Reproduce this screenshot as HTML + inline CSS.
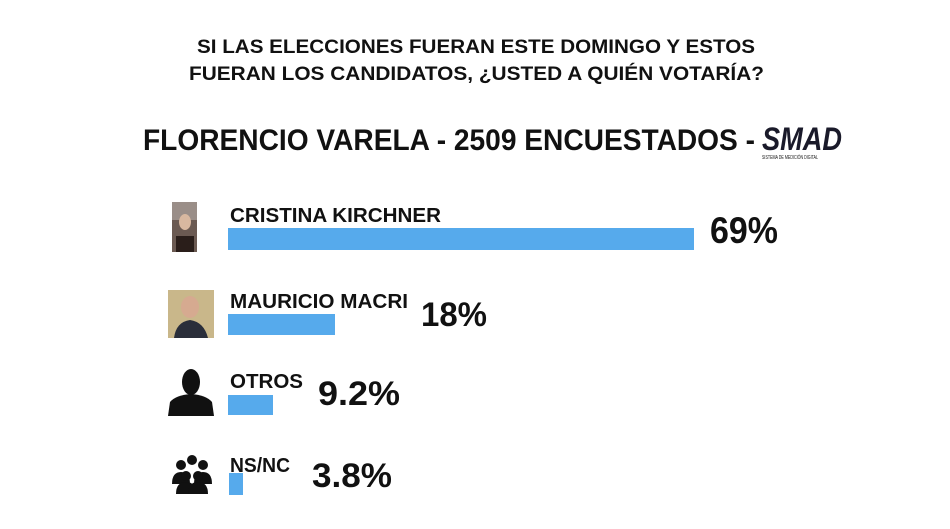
<!DOCTYPE html>
<html><head><meta charset="utf-8"><style>
html,body{margin:0;padding:0;background:#fff;width:950px;height:529px;overflow:hidden}
svg text{font-family:"Liberation Sans",sans-serif;font-weight:bold;fill:#111}
</style></head><body>
<svg width="950" height="529" viewBox="0 0 950 529" xmlns="http://www.w3.org/2000/svg">
<rect width="950" height="529" fill="#fff"/>
<text x="197" y="53" font-size="19" textLength="558" lengthAdjust="spacingAndGlyphs">SI LAS ELECCIONES FUERAN ESTE DOMINGO Y ESTOS</text>
<text x="189" y="80" font-size="19" textLength="575" lengthAdjust="spacingAndGlyphs">FUERAN LOS CANDIDATOS, ¿USTED A QUIÉN VOTARÍA?</text>
<text x="143" y="150" font-size="30" textLength="612" lengthAdjust="spacingAndGlyphs">FLORENCIO VARELA - 2509 ENCUESTADOS -</text>
<text x="762" y="150" font-size="32" font-style="italic" fill="#222" textLength="80" lengthAdjust="spacingAndGlyphs" style="fill:#1a1a2a">SMAD</text>
<text x="762" y="159" font-size="5" textLength="56" lengthAdjust="spacingAndGlyphs" style="font-weight:normal">SISTEMA DE MEDICIÓN DIGITAL</text>

<!-- Row 1 -->
<rect x="172" y="202" width="25" height="50" fill="#6b5a52"/>
<rect x="172" y="202" width="25" height="18" fill="#9a8e88"/>
<ellipse cx="185" cy="222" rx="6" ry="8" fill="#d8b8a0"/>
<rect x="176" y="236" width="18" height="16" fill="#2a1e1a"/>
<text x="230" y="222" font-size="20" textLength="211" lengthAdjust="spacingAndGlyphs">CRISTINA KIRCHNER</text>
<rect x="228" y="228" width="466" height="22" fill="#56aaec"/>
<text x="710" y="243" font-size="37" textLength="68" lengthAdjust="spacingAndGlyphs">69%</text>

<!-- Row 2 -->
<rect x="168" y="290" width="46" height="48" fill="#c9b78a"/>
<ellipse cx="190" cy="307" rx="9" ry="11" fill="#d6aa90"/>
<path d="M174 338 Q176 322 190 320 Q204 322 208 338 Z" fill="#2a2e3a"/>
<text x="230" y="308" font-size="20" textLength="178" lengthAdjust="spacingAndGlyphs">MAURICIO MACRI</text>
<rect x="228" y="314" width="107" height="21" fill="#56aaec"/>
<text x="421" y="326" font-size="34" textLength="66" lengthAdjust="spacingAndGlyphs">18%</text>

<!-- Row 3 -->
<ellipse cx="191" cy="382" rx="9" ry="13" fill="#111"/>
<path d="M168 416 L170 402 Q176 395 191 394 Q206 395 212 402 L214 416 Z" fill="#111"/>
<text x="230" y="388" font-size="20" textLength="73" lengthAdjust="spacingAndGlyphs">OTROS</text>
<rect x="228" y="395" width="45" height="20" fill="#56aaec"/>
<text x="318" y="405" font-size="34" textLength="82" lengthAdjust="spacingAndGlyphs">9.2%</text>

<!-- Row 4 -->
<g fill="#111">
<circle cx="181" cy="465" r="5"/><circle cx="203" cy="465" r="5"/><circle cx="192" cy="460" r="5"/>
<path d="M172 484 Q172 472 181 472 Q190 472 190 484 Z"/>
<path d="M194 484 Q194 472 203 472 Q212 472 212 484 Z"/>
<circle cx="186" cy="476" r="5"/><circle cx="198" cy="476" r="5"/>
<path d="M176 494 Q176 482 186 482 Q196 482 196 494 Z"/>
<path d="M188 494 Q188 482 198 482 Q208 482 208 494 Z"/>
</g>
<text x="230" y="472" font-size="20" textLength="60" lengthAdjust="spacingAndGlyphs">NS/NC</text>
<rect x="229" y="473" width="14" height="22" fill="#56aaec"/>
<text x="312" y="487" font-size="34" textLength="80" lengthAdjust="spacingAndGlyphs">3.8%</text>
</svg>
</body></html>
